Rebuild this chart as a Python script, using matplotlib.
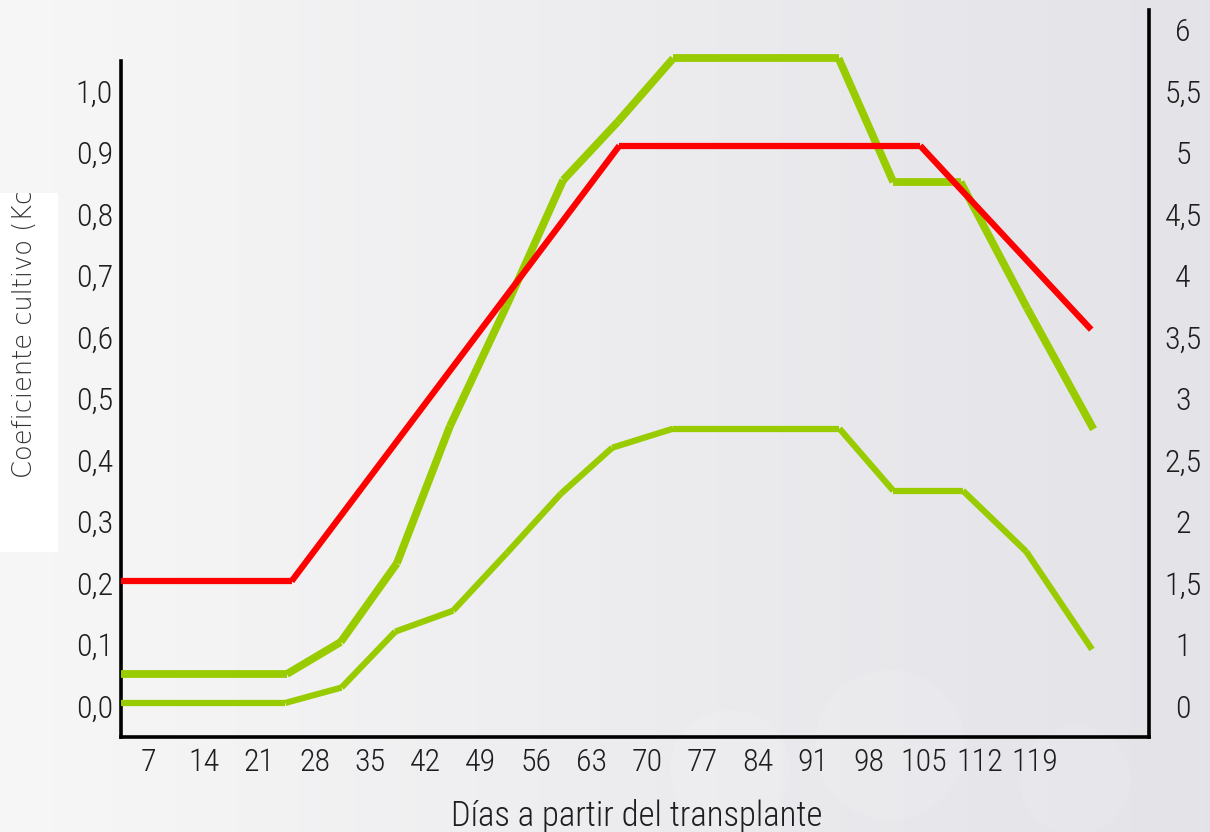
"""
Coeficiente de cultivo (Kc) a lo largo del ciclo tras el transplante
"""
import numpy as np
import matplotlib
matplotlib.use('Agg')
import matplotlib.pyplot as plt
from matplotlib.patches import Rectangle, Ellipse
from matplotlib import font_manager

# Eje X: dias a partir del transplante
days = [7, 14, 21, 28, 35, 42, 49, 56, 63, 70, 77, 84, 91, 98, 105, 112, 119]

# Eje izquierdo (Kc)
kc_ticks = [0.0, 0.1, 0.2, 0.3, 0.4, 0.5, 0.6, 0.7, 0.8, 0.9, 1.0]
kc_labels = ['0,0', '0,1', '0,2', '0,3', '0,4', '0,5',
             '0,6', '0,7', '0,8', '0,9', '1,0']

# Eje derecho (etiquetas tal como aparecen)
right_ticks = [0.0, 0.1, 0.2, 0.3, 0.4, 0.5, 0.6, 0.7, 0.8, 0.9, 1.0, 1.1]
right_labels = ['0', '1', '1,5', '2', '2,5', '3', '3,5',
                '4', '4,5', '5', '5,5', '6']

# Curva Kc (roja)
kc_x = [3.5, 25.1, 66.5, 104.5, 126.1]
kc_y = [0.203, 0.203, 0.911, 0.911, 0.612]

# Curva verde superior
up_x = [3.5, 24.5, 31.3, 38.4, 45.1, 52.3, 59.4, 66.3, 73.3,
        94.2, 101.1, 109.6, 118.0, 126.4]
up_y = [0.052, 0.052, 0.104, 0.232, 0.455, 0.652, 0.855, 0.950, 1.053,
        1.053, 0.852, 0.852, 0.647, 0.450]

# Curva verde inferior
lo_x = [3.5, 24.3, 31.4, 38.2, 45.5, 52.3, 59.1, 65.6, 73.3,
        94.3, 101.1, 109.9, 117.9, 126.2]
lo_y = [0.005, 0.005, 0.030, 0.121, 0.155, 0.249, 0.345, 0.420, 0.451,
        0.451, 0.350, 0.350, 0.251, 0.092]

RED = '#ff0000'
GREEN = '#99cc00'
TXT = '#1e1e1e'

# fuente estrecha si existe
names = set(f.name for f in font_manager.fontManager.ttflist)
narrow = [n for n in ['Roboto Condensed', 'Liberation Sans Narrow',
                      'Open Sans Condensed', 'Roboto'] if n in names]
tick_font = narrow[0] if narrow else 'DejaVu Sans'
condensed = 'Condensed' in tick_font or 'Narrow' in tick_font
tick_size = 23 if condensed else 19
xlab_size = 25 if condensed else 20


def draw_segments(ax, x, y, color, lw):
    # each tramo por separado, asi quedan las muescas en los quiebres
    for i in range(len(x) - 1):
        ax.plot(x[i:i + 2], y[i:i + 2], color=color, lw=lw,
                solid_capstyle='butt', zorder=3)


fig = plt.figure(figsize=(12.1, 8.32), dpi=100)

# Fondo degradado
bg = fig.add_axes([0, 0, 1, 1], zorder=-10)
grad = np.linspace(0, 1, 256)[None, :]
left_c = np.array([0.968, 0.968, 0.968])
right_c = np.array([0.890, 0.890, 0.910])
img = left_c[None, None, :] * (1 - grad[..., None]) + right_c[None, None, :] * grad[..., None]
bg.imshow(img, aspect='auto', extent=[0, 1, 0, 1])
for cx, cy, r in [(730, 770, 60), (890, 745, 75), (1075, 780, 55)]:
    bg.add_patch(Ellipse((cx / 1210, 1 - cy / 832), 2 * r / 1210, 2 * r / 832,
                         facecolor='white', edgecolor='none', alpha=0.1))
bg.set_xlim(0, 1)
bg.set_ylim(0, 1)
bg.axis('off')

# Recuadro blanco de la etiqueta Y
rect = Rectangle((0, 1 - 552 / 832), 58 / 1210, (552 - 193) / 832,
                 transform=fig.transFigure, facecolor='white',
                 edgecolor='none', zorder=1)
fig.patches.append(rect)
ylab = fig.text(25 / 1210, 1 - 478 / 832, 'Coeficiente cultivo (Kc)',
                rotation=90, ha='center', va='bottom', fontsize=18.5,
                fontweight='light', color='#333333', family='DejaVu Sans',
                zorder=2)
ylab.set_clip_path(rect)

ax = fig.add_axes([120.6 / 1210, 95 / 832, (1149 - 120.6) / 1210, 727 / 832])
ax.patch.set_visible(False)

draw_segments(ax, lo_x, lo_y, GREEN, 4.5)
draw_segments(ax, up_x, up_y, GREEN, 5.6)
draw_segments(ax, kc_x, kc_y, RED, 4.5)

ax.set_xlim(3.5, 133.4)
ax.set_ylim(-0.0504, 1.1317)

ax.set_xticks(days)
ax.set_xticklabels([str(d) for d in days], family=tick_font,
                   fontsize=tick_size, fontweight='light', color=TXT)
ax.set_yticks(kc_ticks)
ax.set_yticklabels(kc_labels, family=tick_font, fontsize=tick_size,
                   fontweight='light', color=TXT)
ax.tick_params(axis='both', length=0)
ax.tick_params(axis='x', pad=8)
ax.tick_params(axis='y', pad=5.5)

for s in ['top', 'right']:
    ax.spines[s].set_visible(False)
ax.spines['left'].set_bounds(-0.0504, 1.0488)
ax.spines['left'].set_linewidth(2.6)
ax.spines['bottom'].set_linewidth(2.6)

ax2 = ax.twinx()
ax2.set_ylim(ax.get_ylim())
ax2.set_yticks(right_ticks)
ax2.set_yticklabels(right_labels, family=tick_font, fontsize=tick_size,
                    fontweight='light', color=TXT, ha='center')
ax2.tick_params(axis='y', length=0, pad=24.5)
for s in ['top', 'left', 'bottom']:
    ax2.spines[s].set_visible(False)
ax2.spines['right'].set_linewidth(2.6)

fig.text(636.5 / 1210, 1 - 826 / 832, 'Días a partir del transplante',
         ha='center', va='baseline', fontsize=xlab_size, family=tick_font,
         fontweight='light', color=TXT)

fig.savefig('out.png', dpi=100)
